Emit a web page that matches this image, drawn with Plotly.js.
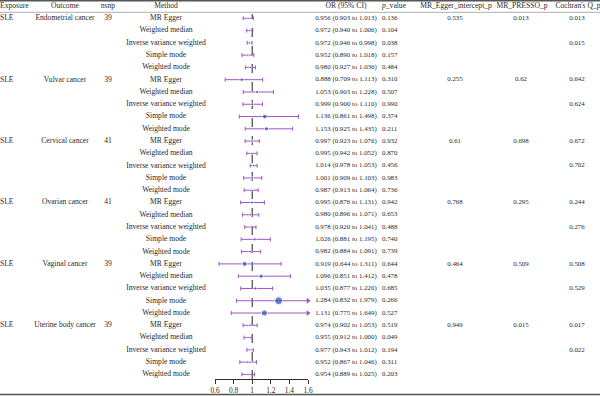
<!DOCTYPE html>
<html>
<head>
<meta charset="utf-8">
<script src="https://cdn.plot.ly/plotly-3.0.1.min.js"></script>
<style>html,body{margin:0;padding:0;background:#fff;}#chart{width:600px;height:396px;}</style>
</head>
<body>
<div id="chart"></div>
<script>
// ---------------- DATA ----------------
const exposure = "SLE";
const outcomes = ["Endometrial cancer", "Vulvar cancer", "Cervical cancer", "Ovarian cancer", "Vaginal cancer", "Uterine body cancer"];
const nsnp = [39, 39, 41, 41, 39, 39];
const methods = ["MR Egger", "Weighted median", "Inverse variance weighted", "Simple mode", "Weighted mode"];

const orVal = [0.956, 0.972, 0.972, 0.952, 0.980,
               0.888, 1.053, 0.999, 1.136, 1.153,
               0.997, 0.995, 1.014, 1.001, 0.987,
               0.995, 0.980, 0.978, 1.026, 0.982,
               0.919, 1.096, 1.035, 1.284, 1.131,
               0.974, 0.955, 0.977, 0.952, 0.954];
const ciLow = [0.903, 0.940, 0.946, 0.890, 0.927,
               0.709, 0.903, 0.900, 0.861, 0.925,
               0.923, 0.942, 0.978, 0.909, 0.913,
               0.876, 0.896, 0.920, 0.881, 0.884,
               0.644, 0.851, 0.877, 0.832, 0.775,
               0.902, 0.912, 0.943, 0.867, 0.889];
const ciHigh = [1.013, 1.006, 0.998, 1.018, 1.036,
                1.113, 1.228, 1.110, 1.498, 1.435,
                1.076, 1.052, 1.053, 1.103, 1.064,
                1.131, 1.071, 1.041, 1.195, 1.091,
                1.311, 1.412, 1.220, 1.979, 1.649,
                1.053, 1.000, 1.012, 1.046, 1.025];
const pValue = [0.136, 0.104, 0.038, 0.157, 0.484,
                0.310, 0.507, 0.990, 0.374, 0.211,
                0.932, 0.870, 0.456, 0.983, 0.736,
                0.942, 0.653, 0.488, 0.740, 0.739,
                0.644, 0.478, 0.685, 0.266, 0.527,
                0.519, 0.049, 0.194, 0.311, 0.203];
const eggerInterceptP = [0.535, 0.255, 0.61, 0.768, 0.464, 0.949];
const pressoP = [0.013, 0.62, 0.698, 0.295, 0.509, 0.015];
const cochranQEgger = [0.013, 0.642, 0.672, 0.244, 0.508, 0.017];
const cochranQIVW = [0.015, 0.624, 0.702, 0.276, 0.529, 0.022];
const headers = ["Exposure", "Outcome", "nsnp", "Method", "OR (95% CI)", "<i>p</i>_value", "MR_Egger_intercept_p", "MR_PRESSO_p", "Cochran's Q_p"];
const xTicks = [0.6, 0.8, 1, 1.2, 1.4, 1.6];

// ---------------- BUILD ----------------
const nM = methods.length;
const rows = orVal.map((_, i) => i);
const groupRows = outcomes.map((_, g) => g * nM);
const ivwRows = outcomes.map((_, g) => g * nM + 2);
const xMin = xTicks[0], xMax = xTicks[xTicks.length - 1];

const family = "Liberation Serif, Times New Roman, serif";
const font = {family: family, size: 7.6, color: "#2b2b2b"};
const numFont = {family: family, size: 6.9, color: "#2b2b2b"};
const purple = "#a055c2";
const blue = "#2f4fb4";

const traces = [];

// forest points with CI
traces.push({
  type: "scatter", mode: "markers", x: orVal, y: rows, xaxis: "x", yaxis: "y",
  marker: {color: blue, size: orVal.map((_, i) => 2 + 5 * Math.pow(ciHigh[i] - ciLow[i], 1.3))},
  error_x: {type: "data", symmetric: false,
            array: orVal.map((v, i) => Math.min(ciHigh[i], xMax) - v),
            arrayminus: orVal.map((v, i) => v - ciLow[i]),
            color: purple, thickness: 1, width: 2},
  cliponaxis: false, hoverinfo: "skip"
});
// arrowheads where CI exceeds axis
const arrowRows = rows.filter(i => ciHigh[i] > xMax);
traces.push({
  type: "scatter", mode: "markers", x: arrowRows.map(() => xMax), y: arrowRows, xaxis: "x", yaxis: "y",
  marker: {symbol: "triangle-right", color: purple, size: 5},
  cliponaxis: false, hoverinfo: "skip"
});

// text table columns (x2/y2 pixel-width axis)
function textCol(xs, ys, texts, pos, f) {
  traces.push({type: "scatter", mode: "text", x: xs, y: ys, text: texts, textposition: pos,
    textfont: f || font, xaxis: "x2", yaxis: "y2", cliponaxis: false, hoverinfo: "skip", showlegend: false});
}
const col = {exposure: 0, outcome: 65, nsnp: 108, method: 166, or: 346, p: 382, egger: 455, presso: 521, cochran: 577};
const headerY = -1.02;
const hx = [col.exposure, col.outcome, col.nsnp, col.method, col.or, col.p, col.egger + 1, col.presso + 1, col.cochran + 1];
const hpos = ["middle right", "middle center", "middle center", "middle center", "middle center", "middle right", "middle center", "middle center", "middle center"];
headers.forEach((h, k) => textCol([hx[k]], [headerY], [h], hpos[k]));

textCol(groupRows.map(() => col.exposure), groupRows, groupRows.map(() => exposure), "middle right");
textCol(groupRows.map(() => col.outcome), groupRows, outcomes, "middle center");
textCol(groupRows.map(() => col.nsnp), groupRows, nsnp.map(String), "middle center");
textCol(rows.map(() => col.method), rows, rows.map(i => methods[i % nM]), "middle center");
textCol(rows.map(() => col.or), rows, rows.map(i => orVal[i].toFixed(3) + " (" + ciLow[i].toFixed(3) + " to " + ciHigh[i].toFixed(3) + ")"), "middle center", numFont);
textCol(rows.map(() => col.p), rows, pValue.map(v => v.toFixed(3)), "middle right", numFont);
textCol(groupRows.map(() => col.egger), groupRows, eggerInterceptP.map(String), "middle center", numFont);
textCol(groupRows.map(() => col.presso), groupRows, pressoP.map(String), "middle center", numFont);
textCol(groupRows.map(() => col.cochran), groupRows, cochranQEgger.map(String), "middle center", numFont);
textCol(ivwRows.map(() => col.cochran), ivwRows, cochranQIVW.map(String), "middle center", numFont);

// ---------------- LAYOUT ----------------
const W = 600, H = 396;
const axisPx = 379, row0Px = 18.3, rowH = 12.28;
const yTop = -row0Px / rowH, yBot = (axisPx - row0Px) / rowH;
const yDomain = [(H - axisPx) / H, 1];

const layout = {
  width: W, height: H, margin: {l: 0, r: 0, t: 0, b: 0},
  paper_bgcolor: "#fff", plot_bgcolor: "rgba(0,0,0,0)",
  showlegend: false, font: font,
  xaxis: {domain: [215 / W, 308 / W], range: [xMin, xMax], anchor: "y",
          tickvals: xTicks, ticks: "outside", ticklen: 4, tickwidth: 1, tickcolor: "#333",
          showline: true, linecolor: "#333", linewidth: 1, showgrid: false, zeroline: false,
          tickfont: {family: family, size: 7.4, color: "#2b2b2b"}, fixedrange: true},
  yaxis: {domain: yDomain, range: [yBot, yTop], anchor: "x", visible: false, fixedrange: true},
  xaxis2: {domain: [0, 1], range: [0, W], anchor: "y2", visible: false, fixedrange: true},
  yaxis2: {domain: yDomain, range: [yBot, yTop], anchor: "x2", visible: false, fixedrange: true},
  shapes: [
    {type: "line", xref: "paper", yref: "paper", x0: 0, x1: 1, y0: 1 - 0.8 / H, y1: 1 - 0.8 / H, line: {color: "#555", width: 1.5}},
    {type: "line", xref: "paper", yref: "paper", x0: 0, x1: 1, y0: 1 - 12.3 / H, y1: 1 - 12.3 / H, line: {color: "#999", width: 0.8}},
    {type: "line", xref: "paper", yref: "paper", x0: 0, x1: 1, y0: 1.5 / H, y1: 1.5 / H, line: {color: "#555", width: 1.5}},
    {type: "line", xref: "x", yref: "paper", x0: 1, x1: 1, y0: yDomain[0], y1: 1 - 14 / H, line: {color: "#222", width: 1, dash: "dash"}, layer: "below"}
  ]
};

Plotly.newPlot("chart", traces, layout, {displayModeBar: false, staticPlot: true});
</script>
</body>
</html>
